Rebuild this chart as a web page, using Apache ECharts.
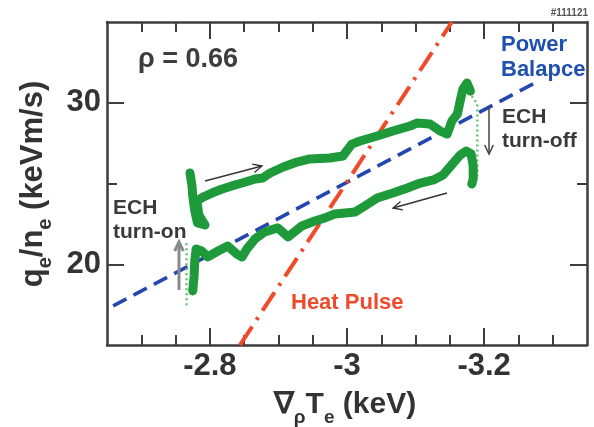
<!DOCTYPE html>
<html><head><meta charset="utf-8">
<script src="https://cdn.jsdelivr.net/npm/echarts@6/dist/echarts.min.js"></script>
<style>html,body{margin:0;padding:0;background:#fff}#c{width:594px;height:427px}</style>
</head><body><div id="c"></div>
<script>
// ---- data ----
const upperX = [-2.771,-2.774,-2.775,-2.778,-2.782,-2.793,-2.784,-2.781,-2.790,-2.803,-2.818,-2.832,-2.847,-2.866,-2.877,-2.888,-2.907,-2.927,-2.946,-2.975,-2.994,-3.007,-3.019,-3.044,-3.067,-3.092,-3.102,-3.121,-3.136,-3.146,-3.153,-3.161,-3.165,-3.169,-3.175,-3.180];
const upperY = [25.65,24.85,24.23,23.30,22.56,22.43,23.05,23.92,24.16,24.41,24.66,24.85,25.03,25.28,25.34,25.65,26.02,26.33,26.52,26.58,26.70,27.44,27.63,27.94,28.25,28.56,28.74,28.68,28.25,28.06,28.87,29.30,30.11,30.85,31.22,30.72];
const lowerX = [-2.775,-2.777,-2.778,-2.780,-2.788,-2.797,-2.812,-2.826,-2.839,-2.847,-2.854,-2.866,-2.880,-2.899,-2.914,-2.934,-2.953,-2.968,-2.982,-2.997,-3.012,-3.026,-3.044,-3.067,-3.088,-3.107,-3.126,-3.140,-3.155,-3.165,-3.174,-3.181,-3.184,-3.184,-3.182];
const lowerY = [18.35,19.27,20.20,20.95,20.82,20.45,20.82,21.13,20.64,20.45,20.95,21.57,22.00,22.25,21.69,22.37,22.68,22.87,23.11,23.17,23.24,23.61,24.10,24.41,24.72,25.03,25.22,25.53,26.27,26.76,27.01,26.83,26.08,25.28,24.97];
const turnOnX = [-2.766,-2.766];
const turnOnY = [21.3,17.3];
const turnOffX = [-3.182,-3.190,-3.190];
const turnOffY = [30.41,29.92,25.34];
const powerX = [-2.659,-3.279];
const powerY = [17.42,31.34];
const heatX = [-2.844,-3.153];
const heatY = [15,35];
const xMajor = [-3.2,-3.0,-2.8];
const xMinor = [-3.3,-3.25,-3.15,-3.1,-3.05,-2.95,-2.9,-2.85,-2.75,-2.7];
const yMajor = [20,30];
const yMinor = [25];

const zip = (a,b) => a.map((v,i)=>[v,b[i]]);
const FONT = 'Liberation Sans, Arial, sans-serif';
const AX = '#3d3d3d';

function xAx(pos, vals, len, showLine, labels){
  return {type:'value', position:pos, min:-3.35, max:-2.65, inverse:true,
    axisLine:{show:showLine, onZero:false, lineStyle:{color:AX,width:2.5}},
    axisTick:{show:true, inside:true, length:len, customValues:vals, lineStyle:{color:AX,width:2}},
    axisLabel:{show:!!labels, customValues:vals, margin:6, color:'#333', fontSize:31, fontWeight:'bold', fontFamily:FONT},
    splitLine:{show:false}};
}
function yAx(pos, vals, len, showLine, labels){
  return {type:'value', position:pos, min:15, max:35,
    axisLine:{show:showLine, onZero:false, lineStyle:{color:AX,width:2.5}},
    axisTick:{show:true, inside:true, length:len, customValues:vals, lineStyle:{color:AX,width:2}},
    axisLabel:{show:!!labels, customValues:vals, margin:6, color:'#333', fontSize:31, fontWeight:'bold', fontFamily:FONT},
    splitLine:{show:false}};
}

function arrow(x1,y1,x2,y2,color,w,hl){
  const a = Math.atan2(y2-y1,x2-x1), s = 0.45;
  const p1 = [x2 - hl*Math.cos(a-s), y2 - hl*Math.sin(a-s)];
  const p2 = [x2 - hl*Math.cos(a+s), y2 - hl*Math.sin(a+s)];
  return [
    {type:'line', z:100, silent:true, shape:{x1,y1,x2,y2}, style:{stroke:color,lineWidth:w}},
    {type:'polyline', z:100, silent:true, shape:{points:[p1,[x2,y2],p2]}, style:{stroke:color,lineWidth:w,fill:null}}
  ];
}
function txt(x,y,text,o){
  return Object.assign({type:'text', z:100, silent:true, x, y, style:Object.assign({text, fontFamily:FONT, fontWeight:'bold'}, o)});
}

const chart = echarts.init(document.getElementById('c'), null, {renderer:'canvas'});
chart.setOption({
  animation:false,
  backgroundColor:'#fff',
  grid:{left:107, right:7, top:22, bottom:82, containLabel:false},
  xAxis:[xAx('bottom',xMajor,17,true,true), xAx('bottom',xMinor,10,false,false), xAx('top',xMajor,17,true,false), xAx('top',xMinor,10,false,false)],
  yAxis:[yAx('left',yMajor,17,true,true), yAx('left',yMinor,10,false,false), yAx('right',yMajor,17,true,false), yAx('right',yMinor,10,false,false)],
  series:[
    {type:'line', data:zip(powerX,powerY), symbol:'none', clip:true, lineStyle:{color:'#2446b0', width:3.5, type:[15,8]}},
    {type:'line', data:zip(heatX,heatY), symbol:'none', clip:true, lineStyle:{color:'#f04a2a', width:4, type:[22,8,3,8]}},
    {type:'line', data:zip(turnOnX,turnOnY), symbol:'none', lineStyle:{color:'#66c476', width:2.5, type:[2,3]}},
    {type:'line', data:zip(turnOffX,turnOffY), symbol:'none', lineStyle:{color:'#66c476', width:2.5, type:[2,3]}},
    {type:'line', data:zip(upperX,upperY), symbol:'none', lineStyle:{color:'#1e9a3a', width:9, cap:'round', join:'round'}},
    {type:'line', data:zip(lowerX,lowerY), symbol:'none', lineStyle:{color:'#1e9a3a', width:9, cap:'round', join:'round'}}
  ],
  graphic:[
    txt(138,60,'ρ = 0.66',{fontSize:27, fill:'#3d3d3d', verticalAlign:'middle'}),
    txt(588,13,'#111121',{fontSize:10, fill:'#555', align:'right', verticalAlign:'middle'}),
    txt(501,57,'Power\nBalapce',{fontSize:22, lineHeight:25, fill:'#1f4fb0', verticalAlign:'middle'}),
    txt(502,129,'ECH\nturn-off',{fontSize:21, lineHeight:24, fill:'#3a3a3a', verticalAlign:'middle'}),
    txt(113,220,'ECH\nturn-on',{fontSize:21, lineHeight:24, fill:'#3a3a3a', verticalAlign:'middle'}),
    txt(291,303,'Heat Pulse',{fontSize:22, fill:'#ee4a2c', verticalAlign:'middle'}),
    {type:'text', z:100, silent:true, x:345, y:405, style:{
      text:'{m|∇}{s|ρ}{m|T}{s|e}{m| (keV)}', align:'center', verticalAlign:'middle',
      rich:{m:{fontSize:30, fontWeight:'bold', fontFamily:FONT, fill:'#333', lineHeight:44},
            s:{fontSize:19, fontWeight:'bold', fontFamily:FONT, fill:'#333', lineHeight:44, verticalAlign:'bottom'}}}},
    {type:'text', z:100, silent:true, x:33, y:184, rotation:Math.PI/2, style:{
      text:'{m|q}{s|e}{m|/n}{s|e}{m| (keVm/s)}', align:'center', verticalAlign:'middle',
      rich:{m:{fontSize:31, fontWeight:'bold', fontFamily:FONT, fill:'#333', lineHeight:44},
            s:{fontSize:20, fontWeight:'bold', fontFamily:FONT, fill:'#333', lineHeight:44, verticalAlign:'bottom'}}}},
    ...arrow(205,181,262,166,'#333',1.3,10),
    ...arrow(447,193,393,208,'#333',1.3,10),
    ...arrow(489,107,489,154,'#444',1.5,10),
    ...arrow(179,290,179,242,'#8a8a8a',3,10)
  ]
});
</script></body></html>
